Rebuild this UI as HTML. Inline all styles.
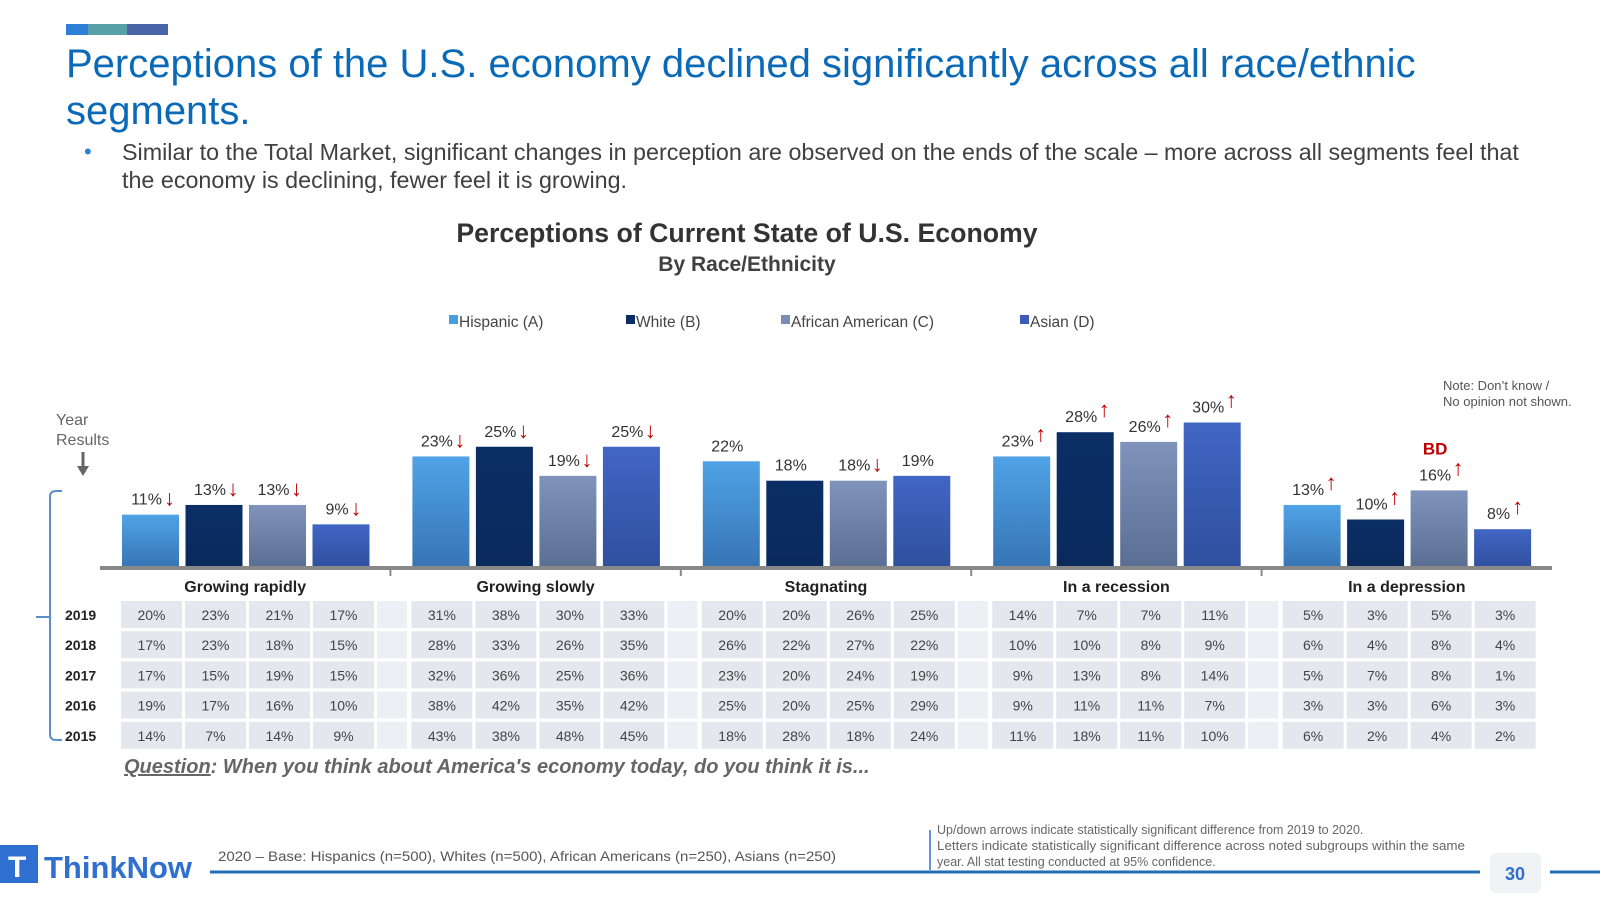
<!DOCTYPE html>
<html><head><meta charset="utf-8"><style>
body{margin:0;background:#fff;}
svg text{font-family:"Liberation Sans",Arial,sans-serif;}
</style></head><body>
<svg id="chart" width="1600" height="900" viewBox="0 0 1600 900" xmlns="http://www.w3.org/2000/svg">
<defs>
<linearGradient id="gA" x1="0" y1="0" x2="0" y2="1"><stop offset="0" stop-color="#4fa3e6"/><stop offset="1" stop-color="#3774b4"/></linearGradient>
<linearGradient id="gB" x1="0" y1="0" x2="0" y2="1"><stop offset="0" stop-color="#0b2e66"/><stop offset="1" stop-color="#0a2a5c"/></linearGradient>
<linearGradient id="gC" x1="0" y1="0" x2="0" y2="1"><stop offset="0" stop-color="#8094bb"/><stop offset="1" stop-color="#5a6d93"/></linearGradient>
<linearGradient id="gD" x1="0" y1="0" x2="0" y2="1"><stop offset="0" stop-color="#4166c4"/><stop offset="1" stop-color="#2f4f9e"/></linearGradient>
</defs>
<g>
<rect x="66" y="24" width="22" height="11" fill="#2e7fd6"/><rect x="88" y="24" width="39" height="11" fill="#5aa0a8"/><rect x="127" y="24" width="41" height="11" fill="#4a64a8"/>
</g>
<text x="66" y="77" font-size="40" fill="#0b6ab8">Perceptions of the U.S. economy declined significantly across all race/ethnic</text>
<text x="66" y="124" font-size="40" fill="#0b6ab8">segments.</text>
<text x="84" y="159" font-size="22" fill="#2e7fd6">•</text>
<text x="122" y="160" font-size="23.3" fill="#404040">Similar to the Total Market, significant changes in perception are observed on the ends of the scale – more across all segments feel that</text>
<text x="122" y="188" font-size="23.3" fill="#404040">the economy is declining, fewer feel it is growing.</text>
<text x="747" y="242" font-size="26.7" font-weight="bold" fill="#333" text-anchor="middle">Perceptions of Current State of U.S. Economy</text>
<text x="747" y="271" font-size="21" font-weight="bold" fill="#404040" text-anchor="middle">By Race/Ethnicity</text>
<g id="legend"></g>
<text x="1443" y="390" font-size="13" fill="#555">Note: Don’t know /</text>
<text x="1443" y="406" font-size="13" fill="#555">No opinion not shown.</text>
<text x="56" y="425" font-size="16" fill="#666">Year</text>
<text x="56" y="445" font-size="16" fill="#666">Results</text>
<g><line x1="83" y1="452" x2="83" y2="470" stroke="#666" stroke-width="3"/><polygon points="77,466 89,466 83,476" fill="#666"/></g>
<path d="M62,491 H56 Q50,491 50,497 V734 Q50,740 56,740 H62 M50,617 H36" fill="none" stroke="#5b8fc7" stroke-width="2"/>
<g id="bars"></g>
<line x1="100" y1="568" x2="1552" y2="568" stroke="#888" stroke-width="4"/>
<g id="table"></g>
<text x="124" y="773" font-size="20" font-weight="bold" font-style="italic" fill="#666"><tspan text-decoration="underline">Question</tspan>: When you think about America's economy today, do you think it is...</text>
<g>
<rect x="0" y="845" width="38" height="38" fill="#2e6fd0"/><text x="8" y="877" font-size="30" font-weight="bold" fill="#fff">T</text>
<text x="44" y="878" font-size="31" font-weight="bold" fill="#2e6fd0" textLength="148" lengthAdjust="spacingAndGlyphs">ThinkNow</text>
</g>
<text x="218" y="861" font-size="14" fill="#555" textLength="618" lengthAdjust="spacingAndGlyphs">2020 – Base: Hispanics (n=500), Whites (n=500), African Americans (n=250), Asians (n=250)</text>
<line x1="930" y1="830" x2="930" y2="870" stroke="#2e6fd0" stroke-width="1.5"/>
<text x="937" y="834" font-size="12.5" fill="#666">Up/down arrows indicate statistically significant difference from 2019 to 2020.</text>
<text x="937" y="850" font-size="12.5" fill="#666" textLength="528" lengthAdjust="spacingAndGlyphs">Letters indicate statistically significant difference across noted subgroups within the same</text>
<text x="937" y="866" font-size="12.5" fill="#666">year.  All stat testing conducted at 95% confidence.</text>
<line x1="210" y1="872" x2="1480" y2="872" stroke="#1f6fb8" stroke-width="3"/>
<line x1="1550" y1="872" x2="1600" y2="872" stroke="#1f6fb8" stroke-width="3"/>
<rect x="1490" y="853" width="51" height="40" rx="6" fill="#f0f2f5"/>
<text x="1515" y="880" font-size="18" font-weight="bold" fill="#2e6fd0" text-anchor="middle">30</text>
</svg>
<script>
const categories = ["Growing rapidly","Growing slowly","Stagnating","In a recession","In a depression"];
const seriesNames = ["Hispanic (A)","White (B)","African American (C)","Asian (D)"];
const values2020 = [[11,13,13,9],[23,25,19,25],[22,18,18,19],[23,28,26,30],[13,10,16,8]];
const arrows2020 = [["d","d","d","d"],["d","d","d","d"],["","","d",""],["u","u","u","u"],["u","u","u","u"]];
const letters2020 = [["","","",""],["","","",""],["","","",""],["","","",""],["","","BD",""]];
const years = ["2019","2018","2017","2016","2015"];
const history = [
 [[20,23,21,17],[31,38,30,33],[20,20,26,25],[14,7,7,11],[5,3,5,3]],
 [[17,23,18,15],[28,33,26,35],[26,22,27,22],[10,10,8,9],[6,4,8,4]],
 [[17,15,19,15],[32,36,25,36],[23,20,24,19],[9,13,8,14],[5,7,8,1]],
 [[19,17,16,10],[38,42,35,42],[25,20,25,29],[9,11,11,7],[3,3,6,3]],
 [[14,7,14,9],[43,38,48,45],[18,28,18,24],[11,18,11,10],[6,2,4,2]]
];
const NS="http://www.w3.org/2000/svg";
const fills=["url(#gA)","url(#gB)","url(#gC)","url(#gD)"];
const legendColors=["#4a9ee0","#0a2d63","#7a8db5","#3a5cb8"];
const baseY=568, pxPer=4.85, groupX0=100, groupW=290.4, barOff=22, barStep=63.5, barW=57;
function y(v){return baseY-v*pxPer;}
function gx(g){return groupX0+g*groupW;}
function bx(g,s){return gx(g)+barOff+s*barStep;}
function mk(tag,attrs,parent,txt){const e=document.createElementNS(NS,tag);for(const k in attrs)e.setAttribute(k,attrs[k]);if(txt!==undefined)e.textContent=txt;parent.appendChild(e);return e;}
const bars=document.getElementById('bars'), table=document.getElementById('table'), legend=document.getElementById('legend');
const legX=[449,626,781,1020];
seriesNames.forEach((n,s)=>{
 const r=mk('rect',{x:legX[s],y:315,width:9,height:9,fill:legendColors[s]},legend);
 
 
 const t=mk('text',{x:legX[s]+10,y:327,'font-size':15.5,fill:'#444'},legend,n);
 
 
});
categories.forEach((c,g)=>{
 if(g>0){const tk=mk('line',{x1:gx(g),y1:568,x2:gx(g),y2:576,stroke:'#888','stroke-width':2},bars);
 
 }
 const lab=mk('text',{x:gx(g)+groupW/2,y:592,'font-size':16,'font-weight':'bold',fill:'#222','text-anchor':'middle'},table,c);
 
 
 values2020[g].forEach((v,s)=>{
  const x=bx(g,s);
  const b=mk('rect',{x:x,y:y(v),width:barW,height:baseY-y(v),fill:fills[s]},bars);
  
  
  const lt=mk('text',{x:x+barW/2-4,y:y(v)-10,'font-size':16,fill:'#333','text-anchor':'middle'},bars,v+'%');
  
  
  const a=arrows2020[g][s];
  if(a){const ax=x+barW/2+(v<10?15:19), ay=y(v)-12;
   const ar=mk('text',{x:ax,y:a==='d'?ay+3:ay-3,'font-size':22,'font-weight':'bold',fill:'#c00000','text-anchor':'middle'},bars,a==='d'?'↓':'↑');
   
   }
  const L=letters2020[g][s];
  if(L){const lt2=mk('text',{x:x+barW/2-4,y:y(v)-36,'font-size':17,'font-weight':'bold',fill:'#c00000','text-anchor':'middle'},bars,L);
   
   }
 });
});
years.forEach((yr,r)=>{
 const ry=601+r*30.2;
 const yl=mk('text',{x:65,y:ry+19,'font-size':14,'font-weight':'bold',fill:'#222'},table,yr);
 
 
 categories.forEach((c,g)=>{
  const cx0=gx(g)+21;
  for(let s=0;s<4;s++){
   const cell=mk('rect',{x:cx0+s*64,y:ry,width:61,height:27,fill:'#e4e8ee'},table);
   
   
   const t=mk('text',{x:cx0+s*64+30.5,y:ry+19,'font-size':14,fill:'#444','text-anchor':'middle'},table,history[r][g][s]+'%');
   
   
  }
  if(g<4){const sp=mk('rect',{x:cx0+256,y:ry,width:30,height:27,fill:'#eceff3'},table);
  
  }
 });
});
</script>
</body></html>
